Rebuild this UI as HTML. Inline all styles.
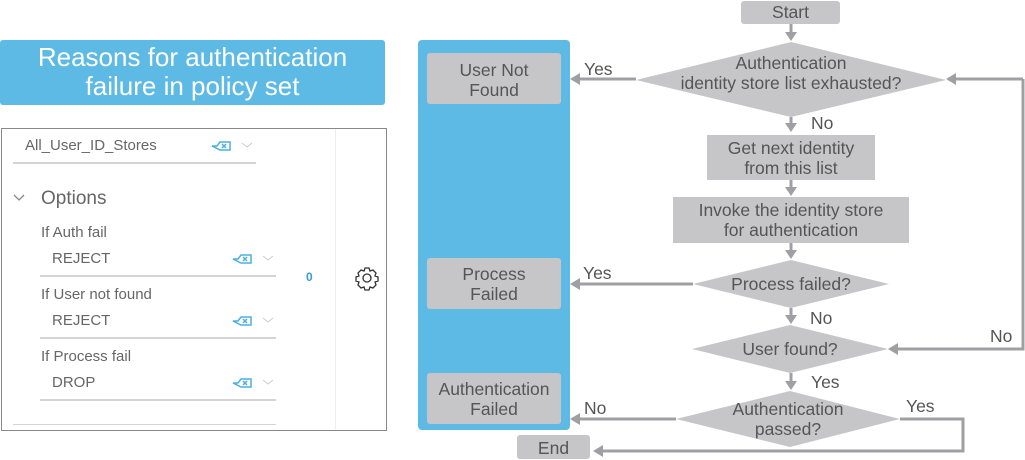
<!DOCTYPE html>
<html><head><meta charset="utf-8"><style>
body{margin:0;width:1025px;height:460px;background:#fff;font-family:"Liberation Sans",sans-serif;position:relative;overflow:hidden}
.a{position:absolute}
.t{position:absolute;color:#666;font-size:15px;white-space:nowrap}
.ul{position:absolute;height:2px;background:#d4d4d4}
</style></head><body>
<div class="a" style="left:0;top:40px;width:385px;height:65px;background:#5dbae4;border-radius:3px;color:#fff;font-size:26px;text-align:center;line-height:29px;padding-top:3px;box-sizing:border-box">Reasons for authentication<br>failure in policy set</div>
<div class="a" style="left:1px;top:128px;width:384px;height:301px;border:1px solid #888"></div>
<div class="a" style="left:335px;top:129px;width:1px;height:300px;background:#eee"></div>
<div class="t" style="left:25px;top:137px">All_User_ID_Stores</div>
<div class="ul" style="left:13px;top:162px;width:243px"></div>
<div class="t" style="left:41px;top:188px;font-size:19px">Options</div>
<div class="t" style="left:41px;top:224px">If Auth fail</div>
<div class="t" style="left:52px;top:250px">REJECT</div>
<div class="ul" style="left:40px;top:275px;width:236px"></div>
<div class="t" style="left:41px;top:286px">If User not found</div>
<div class="t" style="left:52px;top:312px">REJECT</div>
<div class="ul" style="left:40px;top:337px;width:236px"></div>
<div class="t" style="left:41px;top:348px">If Process fail</div>
<div class="t" style="left:52px;top:374px">DROP</div>
<div class="ul" style="left:40px;top:399px;width:236px"></div>
<div class="ul" style="left:13px;top:424px;width:263px;height:1px"></div>
<div class="t" style="left:306px;top:270px;color:#3a9bd5;font-size:12px;font-weight:bold">0</div>
<svg class="a" style="left:0;top:0" width="1025" height="460">
<path d="M14 195l5 5 5-5" fill="none" stroke="#888" stroke-width="1.3"/>
<g fill="none" stroke="#4bb0e0" stroke-width="1.5">
<path d="M212 146h5l3-4h10v8h-10z"/><path d="M222 144l4 4M226 144l-4 4"/>
<path d="M233 259h5l3-4h10v8h-10z"/><path d="M243 257l4 4M247 257l-4 4"/>
<path d="M233 321h5l3-4h10v8h-10z"/><path d="M243 319l4 4M247 319l-4 4"/>
<path d="M233 383h5l3-4h10v8h-10z"/><path d="M243 381l4 4M247 381l-4 4"/>
</g>
<g fill="none" stroke="#ccc" stroke-width="1">
<path d="M242 143l5 4 5-4M263 256l5 4 5-4M263 318l5 4 5-4M263 380l5 4 5-4"/>
</g>
<g transform="translate(367,278)" fill="none" stroke="#333" stroke-width="1.3">
<circle r="4"/>
<path d="M-2-10h4l1 3 3-1 3 3-1 3 3 1v4l-3 1 1 3-3 3-3-1-1 3h-4l-1-3-3 1-3-3 1-3-3-1v-4l3-1-1-3 3-3 3 1z"/>
</g>
<rect x="418" y="40" width="152" height="390" rx="4" fill="#5dbae4"/>
<g fill="#c6c6c9">
<rect x="427" y="53" width="134" height="51" rx="3"/>
<rect x="427" y="258" width="134" height="51" rx="3"/>
<rect x="427" y="373" width="134" height="51" rx="3"/>
<rect x="741" y="1" width="99" height="23" rx="3"/>
<polygon points="636,80 791,42 946,80 791,117"/>
<rect x="707" y="135" width="168" height="45"/>
<rect x="673" y="197" width="236" height="46"/>
<polygon points="693,284 791,260 889,284 791,308"/>
<polygon points="692,349 790,325 888,349 790,373"/>
<polygon points="676,419 790,391 900,419 790,447"/>
<rect x="517" y="435" width="73" height="24" rx="3"/>
</g>
<g stroke="#a0a0a4" stroke-width="3" fill="none">
<path d="M791 24v10M791 117v8M791 180v9M791 243v9M791 308v9M791 373v10"/>
<path d="M636 79H578M693 284H578M676 419H578"/>
<path d="M1023 79V349H896M1023 79H954"/>
<path d="M900 419H963V451H601"/>
</g>
<g fill="#a0a0a4">
<path d="M785 32h12l-6 9zM785 123h12l-6 9zM785 187h12l-6 9zM785 250h12l-6 9zM785 315h12l-6 9zM785 381h12l-6 9z"/>
<path d="M570 79l10-6v12zM570 284l10-6v12zM570 419l10-6v12zM593 451l10-6v12zM946 79l10-6v12zM888 349l10-6v12z"/>
</g>
</svg>
<div class="a" style="left:0;top:0;font-size:17.5px;color:#555">
<div class="a" style="left:422px;top:60px;width:144px;text-align:center;line-height:20px">User Not<br>Found</div>
<div class="a" style="left:422px;top:264px;width:144px;text-align:center;line-height:20px">Process<br>Failed</div>
<div class="a" style="left:422px;top:379px;width:144px;text-align:center;line-height:20px">Authentication<br>Failed</div>
<div class="a" style="left:741px;top:2px;width:99px;text-align:center">Start</div>
<div class="a" style="left:621px;top:53px;width:340px;text-align:center;line-height:20px">Authentication<br>identity store list exhausted?</div>
<div class="a" style="left:697px;top:138px;width:188px;text-align:center;line-height:20px">Get next identity<br>from this list</div>
<div class="a" style="left:663px;top:200px;width:256px;text-align:center;line-height:20px">Invoke the identity store<br>for authentication</div>
<div class="a" style="left:693px;top:274px;width:196px;text-align:center">Process failed?</div>
<div class="a" style="left:692px;top:339px;width:196px;text-align:center">User found?</div>
<div class="a" style="left:666px;top:399px;width:244px;text-align:center;line-height:20px">Authentication<br>passed?</div>
<div class="a" style="left:517px;top:438px;width:73px;text-align:center">End</div>
<div class="a" style="left:584px;top:59px">Yes</div>
<div class="a" style="left:583px;top:263px">Yes</div>
<div class="a" style="left:584px;top:398px">No</div>
<div class="a" style="left:811px;top:113px">No</div>
<div class="a" style="left:810px;top:308px">No</div>
<div class="a" style="left:811px;top:372px">Yes</div>
<div class="a" style="left:990px;top:326px">No</div>
<div class="a" style="left:906px;top:396px">Yes</div>
</div>
</body></html>
